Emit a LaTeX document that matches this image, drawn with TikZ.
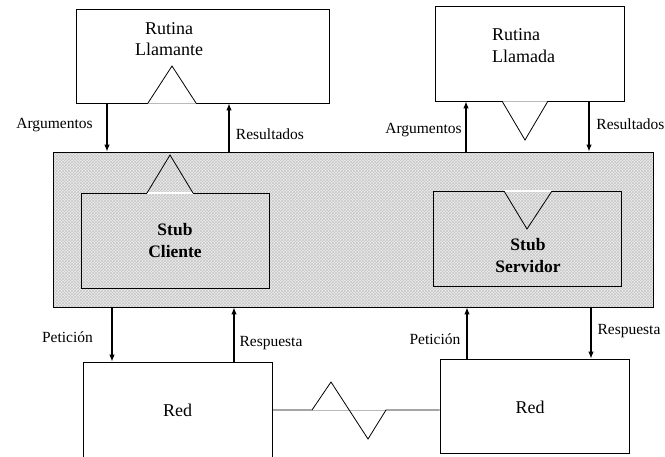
\documentclass[tikz,border=0pt]{standalone}
\usepackage{fontspec}
\setmainfont{Liberation Serif}
\usetikzlibrary{patterns,arrows.meta}
\begin{document}
\begin{tikzpicture}[x=1pt,y=-1pt,
  box/.style={draw,line width=0.8pt,rectangle,inner sep=0pt},
  hatchbox/.style={box,preaction={fill=gray!14},pattern=crosshatch,pattern color=gray!45},
  arr/.style={line width=1.1pt,-{Latex[length=7pt,width=5.5pt]}},
  lbl/.style={font=\fontsize{15.5}{18}\selectfont,inner sep=0pt},
  bigt/.style={font=\fontsize{18}{21.5}\selectfont,align=center,inner sep=0pt},
  boldt/.style={font=\fontsize{17.5}{22}\selectfont\bfseries,align=center,inner sep=0pt},
  leg/.style={line width=0.8pt,line join=miter},
  baseg/.style={gray!55,line width=0.8pt},
  basew/.style={white,line width=1.4pt},
]
\useasboundingbox (0,0) rectangle (665,456);
\clip (0,0) rectangle (665,456);

% boxes
\node[box,minimum width=253pt,minimum height=94pt] (RL) at (202.5,56) {};
\node[box,minimum width=189pt,minimum height=95pt] (RD) at (529.5,53.5) {};
\node[hatchbox,minimum width=600pt,minimum height=155pt] (BG) at (353,229.5) {};
\node[box,minimum width=188pt,minimum height=95pt,boldt] (SC) at (175,240.5) {Stub\\Cliente};
\node[box,minimum width=188pt,minimum height=95pt] (SS) at (527,238.5) {};
\node[box,minimum width=189pt,minimum height=97pt,bigt] (R1) at (177.5,410.5) {Red};
\node[box,minimum width=189pt,minimum height=94pt] (R2) at (534.5,406) {};

% texts
\node[bigt] (tRL) at (169,39) {Rutina\\Llamante};
\node[bigt,align=left,anchor=west] (tRD) at (492,45.5) {Rutina\\Llamada};
\node[boldt] (tSS) at (528,256) {Stub\\Servidor};
\node[bigt] (tR2) at (530,407) {Red};

% triangles
\draw[basew] (148,103) -- (196,103);
\draw[baseg] (148,103) -- (196,103);
\draw[leg] (148,103) -- (172,66) -- (196,103);

\draw[basew] (147,193) -- (193,193);
\draw[leg] (147,193) -- (170,155) -- (193,193);

\draw[basew] (502,101) -- (548,101);
\draw[baseg] (502,101) -- (548,101);
\draw[leg] (502,101) -- (525,140) -- (548,101);

\draw[basew] (504,191) -- (552,191);
\draw[leg] (504,191) -- (527,229) -- (552,191);

% arrows top
\draw[arr] (107,0 |- RL.south) -- (107,0 |- BG.north);
\draw[arr] (229,0 |- BG.north) -- (229,0 |- RL.south);
\draw[arr] (466,0 |- BG.north) -- (466,0 |- RD.south);
\draw[arr] (589,0 |- RD.south) -- (589,0 |- BG.north);
% arrows bottom
\draw[arr] (112,0 |- BG.south) -- (112,0 |- R1.north);
\draw[arr] (234,0 |- R1.north) -- (234,0 |- BG.south);
\draw[arr] (467,0 |- R2.north) -- (467,0 |- BG.south);
\draw[arr] (591,0 |- BG.south) -- (591,0 |- R2.north);

% labels
\node[lbl] (l1) at (54.5,125) {Argumentos};
\node[lbl] (l2) at (270,134) {Resultados};
\node[lbl] (l3) at (423.5,130) {Argumentos};
\node[lbl] (l4) at (630.5,124) {Resultados};
\node[lbl] (l5) at (67.5,337) {Petición};
\node[lbl] (l6) at (271,343) {Respuesta};
\node[lbl] (l7) at (435,339) {Petición};
\node[lbl] (l8) at (629,331) {Respuesta};

% network link
\coordinate (z1) at (312,410);
\coordinate (z2) at (386,410);
\draw[baseg] (z1) -- (z2);
\draw[leg] (R1.east |- z1) -- (z1) -- (331,382) -- (368,439) -- (z2) -- (R2.west |- z2);
\end{tikzpicture}
\end{document}
